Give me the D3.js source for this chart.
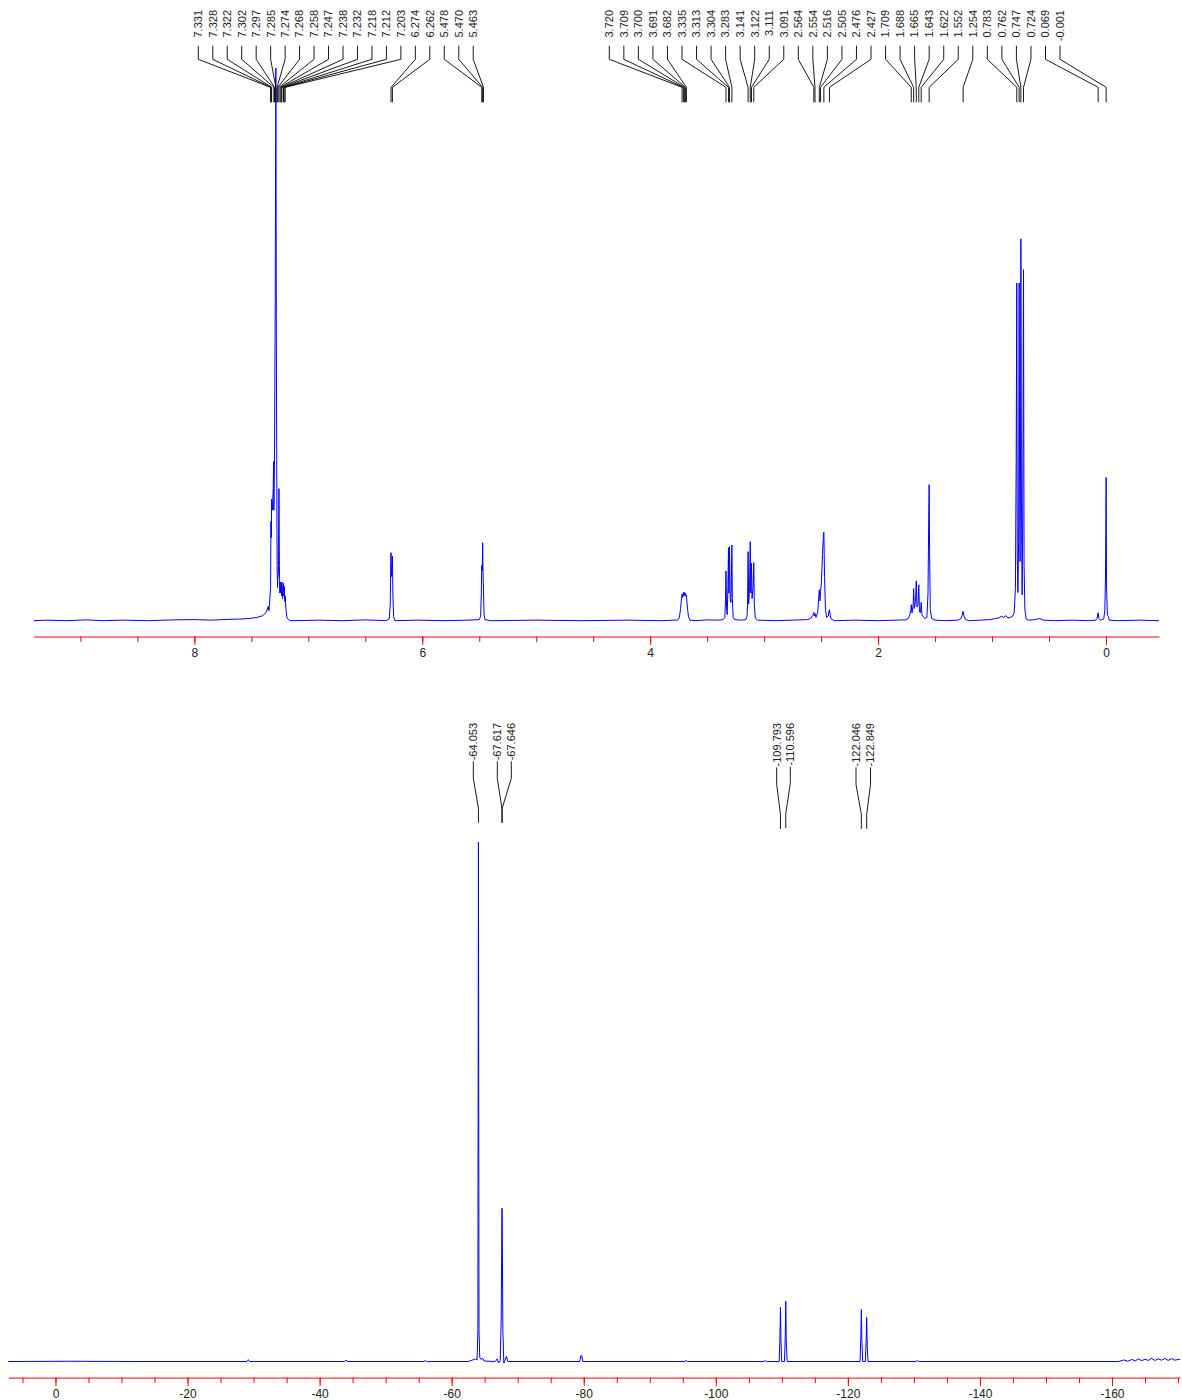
<!DOCTYPE html>
<html>
<head>
<meta charset="utf-8">
<script src="https://cdn.jsdelivr.net/npm/d3@7"></script>
<style>
  body { margin: 0; background: #fff; }
  svg { display: block; font-family: "Liberation Sans", Arial, sans-serif; }
</style>
</head>
<body>
<div id="chart"></div>
<script>
// ---- data ----

// 1H spectrum: [ppm, relative intensity]
const protonSpectrum = [
  [9.41,0],[9.30,0.1],[9.12,0],[8.95,0.15],[8.80,0],[8.62,0.1],[8.40,0],[8.18,0.15],[8.00,0.2],[7.85,0.1],
  [7.70,0.25],[7.60,0.3],[7.52,0.4],[7.45,0.6],[7.40,0.9],[7.37,1.5],[7.352,2.6],[7.345,1.8],
  [7.338,4],[7.331,6],[7.328,18],[7.325,15],[7.322,22],[7.315,20],[7.308,24],[7.305,28.8],[7.302,20],
  [7.297,30],[7.291,55],[7.285,100],[7.280,45],[7.274,10],[7.270,6],[7.268,7.5],[7.262,9],[7.258,23.9],
  [7.254,10],[7.250,5],[7.247,7],[7.243,5],[7.238,6.5],[7.235,4.5],[7.232,7],[7.226,4],[7.218,6.8],
  [7.215,4.5],[7.212,6.2],[7.207,3.5],[7.203,4.5],[7.196,2],[7.188,0.6],[7.175,0.2],[7.15,0],
  [6.90,0.1],[6.70,0],[6.50,0.15],[6.32,0],[6.29,0.3],[6.281,3],[6.276,11.5],[6.274,12.3],[6.270,8],
  [6.266,9],[6.262,11.7],[6.258,5],[6.252,0.8],[6.24,0],[6.05,0.1],[5.80,0],[5.60,0.1],[5.50,0.2],
  [5.488,0.8],[5.482,5],[5.478,10],[5.474,9],[5.470,14.1],[5.467,9],[5.463,5.6],[5.458,1.2],[5.45,0.2],[5.40,0],
  [5.00,0.1],[4.60,0],[4.20,0.1],[3.90,0],[3.80,0.1],[3.76,0.1],[3.745,0.5],[3.733,2.2],[3.725,4.2],
  [3.720,4.8],[3.715,4.2],[3.709,5.1],[3.704,4.5],[3.700,5.1],[3.695,4.6],[3.691,5.0],[3.686,4.4],
  [3.682,4.6],[3.675,2.8],[3.665,0.8],[3.652,0.1],[3.60,0],[3.50,0.15],[3.40,0.1],[3.36,0.2],
  [3.345,0.6],[3.339,4],[3.335,9.0],[3.330,2.5],[3.324,1.1],[3.318,6],[3.313,13.2],[3.309,5],[3.304,13.4],
  [3.298,4],[3.291,3.3],[3.287,8],[3.283,13.7],[3.279,4],[3.272,0.6],[3.26,0.2],[3.20,0.1],[3.16,0.2],
  [3.150,0.8],[3.145,4],[3.141,12.5],[3.136,3],[3.128,6],[3.122,14.3],[3.117,5],[3.111,10.4],[3.106,4],
  [3.097,6],[3.091,10.5],[3.086,3],[3.078,0.5],[3.06,0.1],[2.90,0],[2.75,0.1],[2.62,0.2],
  [2.59,0.4],[2.572,1.0],[2.564,1.5],[2.559,0.9],[2.554,1.3],[2.545,0.6],[2.530,1.5],[2.520,4.5],
  [2.516,5.6],[2.510,3.6],[2.505,5.3],[2.497,7],[2.488,12],[2.480,15.6],[2.476,16],[2.470,8],[2.462,2],
  [2.452,0.6],[2.438,0.8],[2.432,1.6],[2.427,2.0],[2.420,1],[2.412,0.3],[2.38,0],
  [2.20,0.1],[2.00,0],[1.85,0.1],[1.76,0.15],[1.735,0.4],[1.720,1.2],[1.712,2],[1.709,2.9],[1.702,1.4],
  [1.692,3],[1.688,5.8],[1.682,2.2],[1.672,3.5],[1.665,7.2],[1.659,2.5],[1.650,3],[1.643,6.5],[1.637,1.6],
  [1.628,1.5],[1.622,3.3],[1.615,1.0],[1.605,0.8],[1.590,0.4],[1.572,0.6],[1.562,5],[1.555,20],
  [1.552,24.6],[1.548,12],[1.542,2],[1.530,0.4],[1.50,0.1],[1.40,0],
  [1.30,0.1],[1.272,0.4],[1.262,1.0],[1.254,1.7],[1.246,0.8],[1.232,0.2],[1.20,0],[1.10,0.1],[1.02,0.2],
  [0.97,0.4],[0.94,0.5],[0.92,0.8],[0.90,0.6],[0.88,0.9],[0.86,0.5],[0.84,0.6],[0.82,0.8],
  [0.805,1.5],[0.795,6],[0.788,30],[0.783,61.1],[0.779,12],[0.773,5.1],[0.767,14],[0.762,61.1],
  [0.758,25],[0.754,10.7],[0.750,32],[0.747,69.1],[0.742,22],[0.736,4.7],[0.730,22],[0.724,63.5],
  [0.719,10],[0.712,2],[0.700,0.3],[0.68,0.1],[0.62,0.2],[0.58,0.4],[0.55,0.1],[0.45,0],[0.30,0.1],[0.15,0],
  [0.09,0.1],[0.078,0.4],[0.069,1.45],[0.062,0.4],[0.045,0.1],[0.020,0.3],[0.010,2],[0.004,9],
  [-0.001,25.9],[-0.005,6],[-0.012,1],[-0.020,0.8],[-0.028,0.1],[-0.10,0],[-0.30,0.1],[-0.465,0]
];

// 19F spectrum: [ppm, relative intensity]
const fluorineSpectrum = [
  [7.13,0],[-2,0.05],[-12,0],[-29.0,0],[-29.2,0.35],[-29.4,0],[-43.8,0],[-44,0.3],[-44.2,0],[-55.8,0],
  [-56,0.2],[-56.2,0],[-62.5,0],[-63.2,0.3],[-63.6,0.5],[-63.85,0.3],[-63.97,6],[-64.053,100],[-64.14,6],
  [-64.25,0.8],[-64.45,0.4],[-64.7,0.6],[-64.9,0.1],[-66.6,0],[-66.9,0.5],[-67.1,-0.3],[-67.35,0.2],
  [-67.5,8],[-67.617,29.5],[-67.646,28.6],[-67.75,6],[-67.9,-0.3],[-68.05,0.1],[-68.3,1.0],[-68.5,0],
  [-79.4,0],[-79.55,1.1],[-79.7,1.1],[-79.85,0],[-95.3,0],[-95.5,0.2],[-95.7,0],[-107.3,0],[-107.5,0.2],[-107.7,0],
  [-109.6,0],[-109.72,5],[-109.793,10.4],[-109.87,4],[-109.98,0],[-110.4,0],[-110.52,5],[-110.596,11.6],
  [-110.67,4],[-110.8,0],
  [-121.85,0],[-121.97,5],[-122.046,10.0],[-122.12,4],[-122.25,0],[-122.65,0],[-122.77,4],[-122.849,8.5],
  [-122.93,3],[-123.05,0],
  [-130.3,0],[-130.5,0.2],[-130.7,0],[-150,0],[-161,0],[-161.8,0.3],[-162.4,0.05],[-163,0.4],[-163.5,0.1],
  [-164,0.5],[-164.5,0.15],[-165,0.45],[-165.5,0.2],[-166,0.6],[-166.5,0.2],[-167,0.5],[-167.5,0.25],
  [-168,0.6],[-168.5,0.2],[-169,0.55],[-169.5,0.25],[-170.3,0.45]
];

// peak labels
const protonPeaks = [7.331,7.328,7.322,7.302,7.297,7.285,7.274,7.268,7.258,7.247,7.238,7.232,7.218,7.212,7.203,
  6.274,6.262,5.478,5.470,5.463,
  3.720,3.709,3.700,3.691,3.682,3.335,3.313,3.304,3.283,3.141,3.122,3.111,3.091,
  2.564,2.554,2.516,2.505,2.476,2.427,1.709,1.688,1.665,1.643,1.622,1.552,1.254,
  0.783,0.762,0.747,0.724,0.069,-0.001];
const fluorinePeaks = [-64.053,-67.617,-67.646,-109.793,-110.596,-122.046,-122.849];

// axis ticks
const protonMajorTicks = [8, 6, 4, 2, 0];
const protonMinorTicks = d3.range(0, 18.5).map(i => 9 - i * 0.5);
const fluorineMajorTicks = [0, -20, -40, -60, -80, -100, -120, -140, -160];
const fluorineMinorTicks = d3.range(0, 36).map(i => 5 - i * 5);

// ---- drawing ----
const W = 1182, H = 1400;
const svg = d3.select("#chart").append("svg")
  .attr("width", W)
  .attr("height", H)
  .style("background", "#fff");

const x1 = d3.scaleLinear().domain([9.41, -0.465]).range([33.7, 1159]);
const y1 = d3.scaleLinear().domain([0, 100]).range([620.7, 68]);
const x2 = d3.scaleLinear().domain([7.13, -170.3]).range([8.4, 1180]);
const y2 = d3.scaleLinear().domain([0, 100]).range([1361.5, 842]);

function drawAxis(xs, yPos, minor, major) {
  // minor ticks + red base line
  const minorAxis = d3.axisBottom(xs).tickValues(minor).tickSize(5.5).tickSizeOuter(0).tickFormat("");
  const gMin = svg.append("g").attr("transform", "translate(0," + yPos + ")").call(minorAxis);
  // major labelled ticks
  const majorAxis = d3.axisBottom(xs).tickValues(major).tickSize(8.5).tickPadding(3.7)
    .tickFormat(d => String(d));
  const gMaj = svg.append("g").attr("transform", "translate(0," + yPos + ")").call(majorAxis);
  gMaj.select(".domain").remove();
  [gMin, gMaj].forEach(g => {
    g.selectAll("path, line").attr("stroke", "#ff0000").attr("stroke-width", 1);
    g.selectAll("text").attr("fill", "#222").style("font-size", "12px")
      .style("font-family", "'Liberation Sans', Arial, sans-serif");
  });
}

function drawSpectrum(data, xs, ys) {
  const line = d3.line().x(d => xs(d[0])).y(d => ys(d[1]));
  svg.append("path")
    .datum(data)
    .attr("fill", "none")
    .attr("stroke", "#0000ff")
    .attr("stroke-width", 1)
    .attr("stroke-linejoin", "round")
    .attr("d", line);
}

// labels: rotated text at top, bent connector down to the peak
function drawPeakLabels(peaks, xs, slotX, textTop, legs) {
  const g = svg.append("g");
  peaks.forEach((p, i) => {
    const lx = slotX(i);
    const t = g.append("text")
      .attr("transform", "translate(" + lx + "," + textTop + ") rotate(-90)")
      .attr("text-anchor", "end")
      .attr("dy", "0.35em")
      .attr("fill", "#222")
      .style("font-size", "11px")
      .text(p.toFixed(3));
    const len = t.node().getComputedTextLength();
    const l = legs(textTop + len);
    g.append("path")
      .attr("fill", "none")
      .attr("stroke", "#000")
      .attr("stroke-width", 0.9)
      .attr("d", "M" + lx + "," + l[0] + "V" + l[1] + "L" + xs(p) + "," + l[2] + "V" + l[3]);
  });
}

// 1H
drawSpectrum(protonSpectrum, x1, y1);
drawAxis(x1, 636.5, protonMinorTicks, protonMajorTicks);
drawPeakLabels(protonPeaks, x1,
  i => i < 20 ? 198.3 + i * 14.47 : 609.3 + (i - 20) * 14.54,
  10,
  () => [45.7, 59.3, 87.3, 102.3]);

// 19F
drawSpectrum(fluorineSpectrum, x2, y2);
drawAxis(x2, 1377.6, fluorineMinorTicks, fluorineMajorTicks);
const fSlots = [473.3, 497.3, 511.3, 776.7, 790.3, 856, 870.5];
drawPeakLabels(fluorinePeaks, x2,
  i => fSlots[i],
  723,
  e => [e + 1, e + 18, e + 48, e + 62.5]);
</script>
</body>
</html>
